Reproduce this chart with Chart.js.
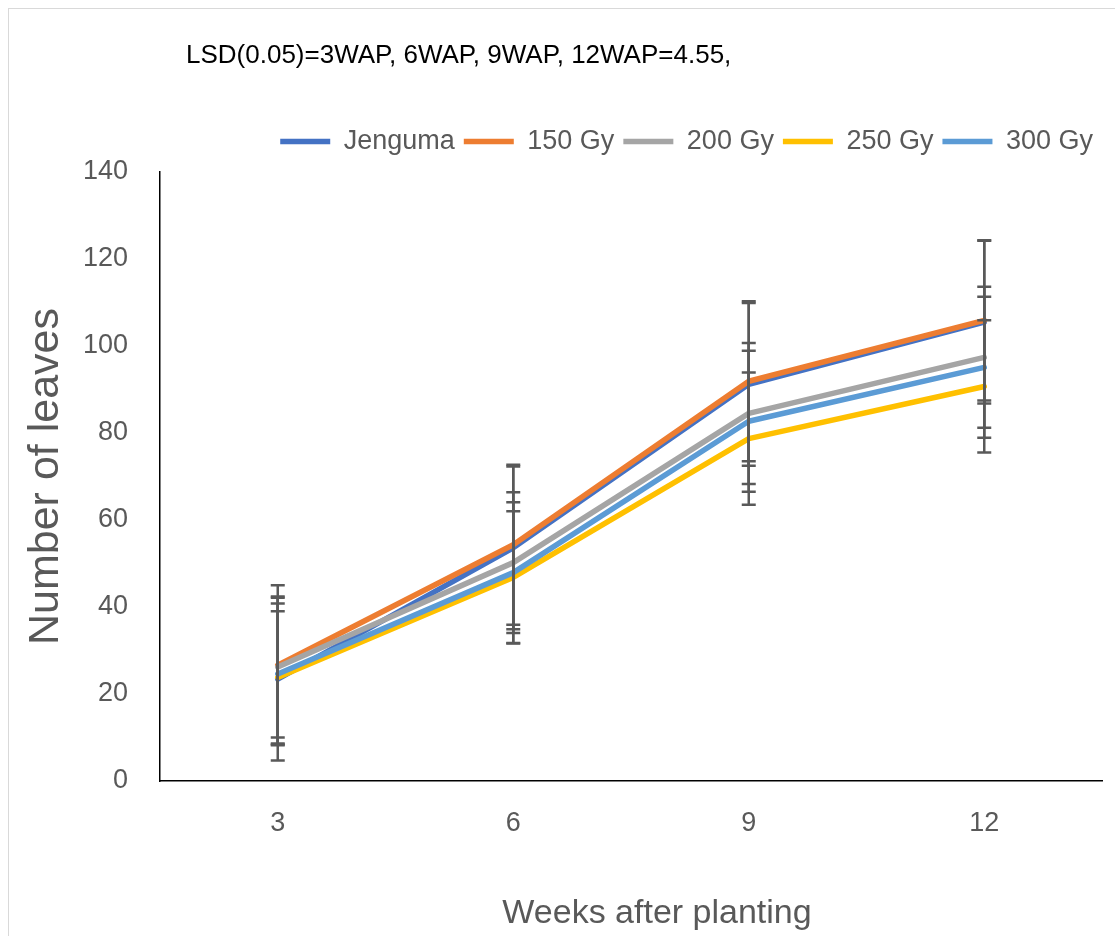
<!DOCTYPE html>
<html>
<head>
<meta charset="utf-8">
<script src="https://cdn.jsdelivr.net/npm/chart.js@4"></script>
<style>
  html, body { margin: 0; padding: 0; background: #fff; }
</style>
</head>
<body>
<canvas id="chart" width="1115" height="936"></canvas>
<script>
// values
const weeks = ["3", "6", "9", "12"];
const jenguma = [23.4, 53.6, 91.2, 105.5];
const gy150 = [26.6, 54.3, 91.9, 105.9];
const gy200 = [26.2, 50.2, 84.5, 97.4];
const gy250 = [23.8, 46.8, 78.7, 90.7];
const gy300 = [24.6, 47.9, 82.7, 95.1];

// error bar size (+/-) for each point
const jengumaErr = [18.7, 18.7, 18.7, 18.7];
const gy150Err = [18.4, 18.4, 18.4, 18.4];
const gy200Err = [16.2, 16.2, 16.2, 16.2];
const gy250Err = [15.2, 15.2, 15.2, 15.2];
const gy300Err = [16.2, 16.2, 16.2, 16.2];

const yTicks = { min: 0, max: 140, step: 20 };
const topText = "LSD(0.05)=3WAP, 6WAP, 9WAP, 12WAP=4.55,";
const xTitle = "Weeks after planting";
const yTitle = "Number of leaves";

const fontName = "'Liberation Sans', Arial, sans-serif";
const grey = "#595959";

function serie(label, data, color, err, order) {
    return {
        label: label,
        data: data,
        err: err,
        borderColor: color,
        backgroundColor: color,
        borderWidth: 5.5,
        borderCapStyle: "round",
        borderJoinStyle: "round",
        pointRadius: 0,
        pointHoverRadius: 0,
        pointStyle: "line",
        tension: 0,
        order: order
    };
}

// frame round the picture, the LSD line on top and the x title
const frame = {
    id: "frame",
    beforeDraw(chart) {
        const ctx = chart.ctx;
        ctx.save();
        ctx.fillStyle = "#fff";
        ctx.fillRect(0, 0, chart.width, chart.height);
        ctx.strokeStyle = "#d9d9d9";
        ctx.lineWidth = 1;
        ctx.strokeRect(8.5, 8.5, 1300, 1300);
        ctx.restore();
    },
    afterLayout(chart) {
        chart.legend.top -= 7;
        chart.legend.bottom -= 7;
    },
    afterDraw(chart) {
        const ctx = chart.ctx;
        ctx.save();
        ctx.font = "26px " + fontName;
        ctx.fillStyle = "#000";
        ctx.textBaseline = "middle";
        ctx.textAlign = "left";
        ctx.fillText(topText, 186, 56);

        ctx.font = "34px " + fontName;
        ctx.fillStyle = grey;
        ctx.textAlign = "center";
        ctx.fillText(xTitle, 657, 914);
        ctx.restore();
    }
};

const errorBars = {
    id: "errorBars",
    afterDatasetsDraw(chart) {
        const ctx = chart.ctx;
        const x = chart.scales.x;
        const y = chart.scales.y;
        ctx.save();
        ctx.strokeStyle = grey;
        ctx.lineWidth = 2.5;
        chart.data.datasets.forEach(ds => {
            ds.data.forEach((v, i) => {
                const px = x.getPixelForValue(i);
                const top = y.getPixelForValue(v + ds.err[i]);
                const bot = y.getPixelForValue(v - ds.err[i]);
                ctx.beginPath();
                ctx.moveTo(px, top);
                ctx.lineTo(px, bot);
                ctx.moveTo(px - 7, top);
                ctx.lineTo(px + 7, top);
                ctx.moveTo(px - 7, bot);
                ctx.lineTo(px + 7, bot);
                ctx.stroke();
            });
        });
        ctx.restore();
    }
};

Chart.defaults.font.family = fontName;

new Chart(document.getElementById("chart"), {
    type: "line",
    data: {
        labels: weeks,
        datasets: [
            serie("Jenguma", jenguma, "#4472C4", jengumaErr, 5),
            serie("150 Gy", gy150, "#ED7D31", gy150Err, 4),
            serie("200 Gy", gy200, "#A5A5A5", gy200Err, 3),
            serie("250 Gy", gy250, "#FFC000", gy250Err, 2),
            serie("300 Gy", gy300, "#5B9BD5", gy300Err, 1)
        ]
    },
    options: {
        responsive: false,
        animation: false,
        events: [],
        layout: {
            padding: { top: 126, right: 13, left: 0, bottom: 0 }
        },
        plugins: {
            legend: {
                position: "top",
                align: "end",
                labels: {
                    color: grey,
                    font: { size: 27 },
                    usePointStyle: true,
                    pointStyleWidth: 50,
                    padding: 9,
                    sort: (a, b) => a.datasetIndex - b.datasetIndex
                }
            },
            tooltip: { enabled: false }
        },
        scales: {
            x: {
                offset: true,
                grid: { display: true, drawOnChartArea: false, drawTicks: false },
                border: { display: true, color: "#000", width: 1.5 },
                ticks: { color: grey, font: { size: 27 }, padding: 26 },
                afterFit(scale) { scale.height = 155; }
            },
            y: {
                min: yTicks.min,
                max: yTicks.max,
                grid: { display: true, drawOnChartArea: false, drawTicks: false },
                border: { display: true, color: "#000", width: 1.5 },
                ticks: { stepSize: yTicks.step, color: grey, font: { size: 27 }, padding: 32 },
                title: {
                    display: true,
                    text: yTitle,
                    color: grey,
                    font: { size: 43 },
                    padding: { top: 20, bottom: 0 }
                },
                afterFit(scale) { scale.width = 160; }
            }
        }
    },
    plugins: [frame, errorBars]
});
</script>
</body>
</html>
